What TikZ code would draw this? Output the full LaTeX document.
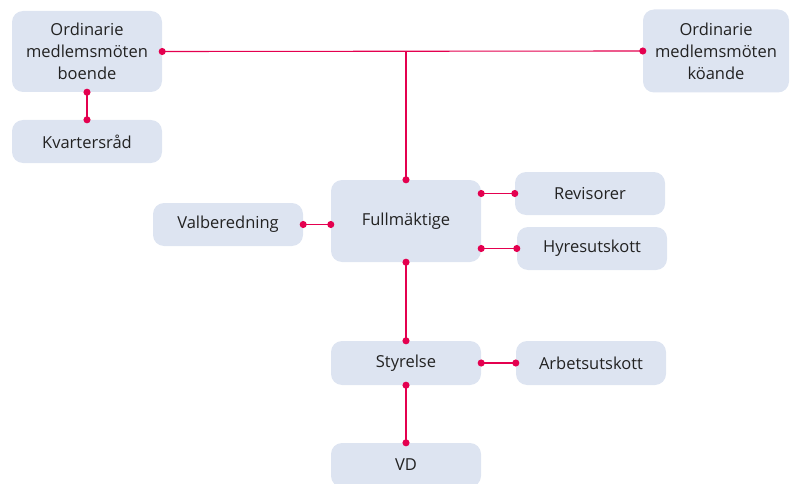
\documentclass[tikz,border=0pt]{standalone}
\usepackage{fontspec}
\setmainfont{Open Sans}
\usetikzlibrary{arrows.meta}

\definecolor{boxfill}{HTML}{DDE4F1}
\definecolor{linkred}{HTML}{E4004F}
\definecolor{textgray}{HTML}{222222}

\tikzset{
  orgbox/.style={fill=boxfill, rounded corners=11pt, minimum width=150pt,
    minimum height=43pt, inner sep=0pt, align=center, text=textgray,
    font=\fontsize{16.5}{22}\selectfont},
  link/.style={draw=linkred, line width=1.1pt,
    {Circle[length=7pt]}-{Circle[length=7pt]},
    shorten <=-3.5pt, shorten >=-3.5pt},
  halflink/.style={draw=linkred, line width=1.1pt, -{Circle[length=7pt]},
    shorten >=-3.5pt}
}

\begin{document}
\begin{tikzpicture}[x=1pt,y=-1pt]
\useasboundingbox (0,0) rectangle (795,484);

\node[orgbox, minimum height=81pt] (boende) at (87,51.5) {Ordinarie\\medlemsmöten\\boende};
\node[orgbox] (kvarter) at (87,141.5) {Kvartersråd};
\node[orgbox, minimum width=146pt, minimum height=83pt] (koande) at (716,51) {Ordinarie\\medlemsmöten\\köande};
\node[orgbox, minimum height=82pt] (fullm) at (406,221) {Fullmäktige};
\node[orgbox] (valb) at (228,224.5) {Valberedning};
\node[orgbox] (revis) at (590,193.5) {Revisorer};
\node[orgbox] (hyres) at (592,248.5) {Hyresutskott};
\node[orgbox, minimum height=44pt] (styr) at (406,363) {Styrelse};
\node[orgbox, minimum height=44pt] (arbets) at (591,363) {Arbetsutskott};
\node[orgbox, minimum height=44pt] (vd) at (406,465) {VD};

\coordinate (topjoin) at (fullm.north |- boende.east);

\draw[link] (boende.east) -- (koande.west);
\draw[halflink] (topjoin) -- (fullm.north);
\draw[link] (boende.south) -- (kvarter.north);
\draw[link] (valb.east) -- (valb.east -| fullm.west);
\draw[link] (fullm.east |- revis.west) -- (revis.west);
\draw[link] (fullm.east |- hyres.west) -- (hyres.west);
\draw[link] (fullm.south) -- (styr.north);
\draw[link] (styr.east) -- (arbets.west);
\draw[link] (styr.south) -- (vd.north);
\end{tikzpicture}
\end{document}
